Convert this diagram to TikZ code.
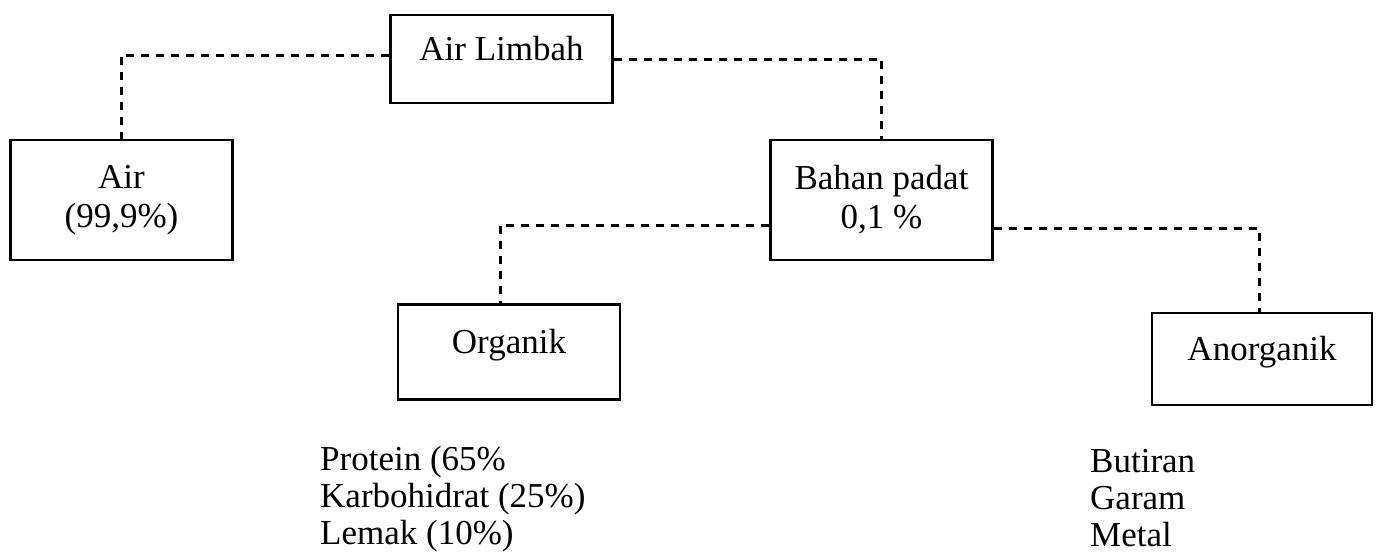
\documentclass[tikz,border=0pt]{standalone}
\usepackage{fontspec}
\setmainfont{Liberation Serif}
\tikzset{
    box/.style={draw, line width=2.2pt, minimum width=222pt, align=center,
        font=\fontsize{35pt}{39pt}\selectfont},
    onebox/.style={box, text height=23pt, text depth=20pt},
    linkline/.style={line width=3pt, dash pattern=on 8pt off 7pt},
    listtext/.style={anchor=base west, inner sep=0pt, font=\fontsize{35pt}{37pt}\selectfont}
}
\begin{document}
\begin{tikzpicture}[x=1pt,y=-1pt]
        \useasboundingbox (0,0) rectangle (1378,558);
        \node[onebox, minimum height=88pt] (limbah) at (501.5,59) {Air Limbah};
        \node[box, minimum height=120pt] (air) at (121.5,200) {Air\\(99,9\%)};
        \node[box, minimum height=120pt] (padat) at (881.5,200) {Bahan padat\\0,1 \%};
        \node[onebox, minimum height=95pt] (organik) at (509,352) {Organik};
        \node[onebox, minimum height=92pt, minimum width=220pt] (anorganik) at (1262,359) {Anorganik};
        \draw[linkline] ([yshift=4pt]limbah.west) -| (air.north);
        \draw[linkline] (limbah.east) -| (padat.north);
        \draw[linkline] ([yshift=-25pt]padat.west) -| ([xshift=-9pt]organik.north);
        \draw[linkline] ([yshift=-28pt]padat.east) -| ([xshift=-3pt]anorganik.north);
        \foreach \item [count=\i] in {{Protein (65\%}, {Karbohidrat (25\%)}, {Lemak (10\%)}} {
            \node[listtext] (org\i) at (320,{433+37*\i}) {\item};
        }
        \foreach \item [count=\i] in {Butiran, Garam, Metal} {
            \node[listtext] (anorg\i) at (1090,{435+37*\i}) {\item};
        }
    \end{tikzpicture}
\end{document}
